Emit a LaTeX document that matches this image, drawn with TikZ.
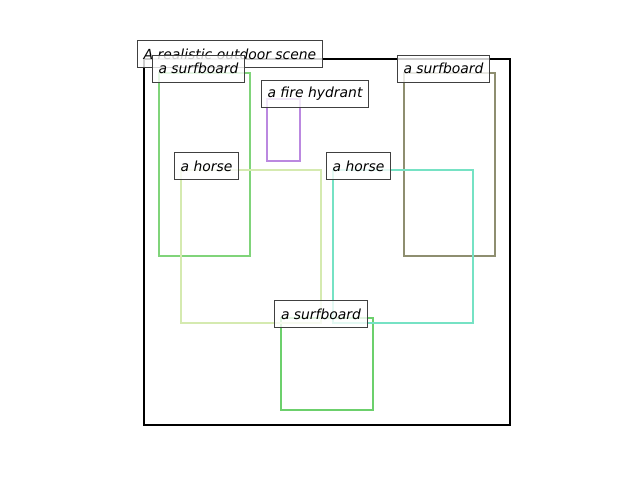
\documentclass[tikz,border=0pt]{standalone}
\usepackage{fontspec}
\setmainfont{DejaVu Sans}
\usetikzlibrary{positioning}
\definecolor{boardgreen}{RGB}{128, 212, 122}
\definecolor{boardolive}{RGB}{142, 142, 112}
\definecolor{boardlime}{RGB}{108, 208, 108}
\definecolor{horselime}{RGB}{213, 234, 176}
\definecolor{horseteal}{RGB}{118, 226, 196}
\definecolor{hydrantpurple}{RGB}{187, 136, 224}
\definecolor{labelgray}{RGB}{64, 64, 64}
\tikzset{
    objbox/.style={line width=2.5pt},
    objlabel/.style={draw=labelgray, line width=1pt, fill=white, fill opacity=0.8, text opacity=1,
        font=\fontsize{13.9}{16}\selectfont\itshape, inner xsep=6.5pt, minimum height=27pt, anchor=center}
}
\begin{document}
\begin{tikzpicture}[x=1pt, y=-1pt]
        \useasboundingbox (0,0) rectangle (640,480);
        % Scene frame
        \draw[line width=2.5pt, black] (144,59) rectangle (510,425);
        
        % Surfboards
        \draw[objbox, boardgreen] (159,73) rectangle (250,256);
        \draw[objbox, boardolive] (404,73) rectangle (495,256);
        \draw[objbox, boardlime] (281,318) rectangle (373,410);
        
        % Fire hydrant
        \draw[objbox, hydrantpurple] (267,99) rectangle (300,161);
        
        % Horses
        \draw[objbox, horselime] (181,170) rectangle (321,323);
        \draw[objbox, horseteal] (333,170) rectangle (473,323);
        
        % Labels
        \node[objlabel] (scene) at (230,54) {A realistic outdoor scene};
        \node[objlabel] (board1) at (198.5,68.5) {a surfboard};
        \node[objlabel] (board2) at (443.5,68.5) {a surfboard};
        \node[objlabel] (hydrant) at (315,93.5) {a fire hydrant};
        \node[objlabel] (horse1) at (206.5,166) {a horse};
        \node[objlabel] (horse2) at (358.5,166) {a horse};
        \node[objlabel] (board3) at (321,314) {a surfboard};
    \end{tikzpicture}
\end{document}
